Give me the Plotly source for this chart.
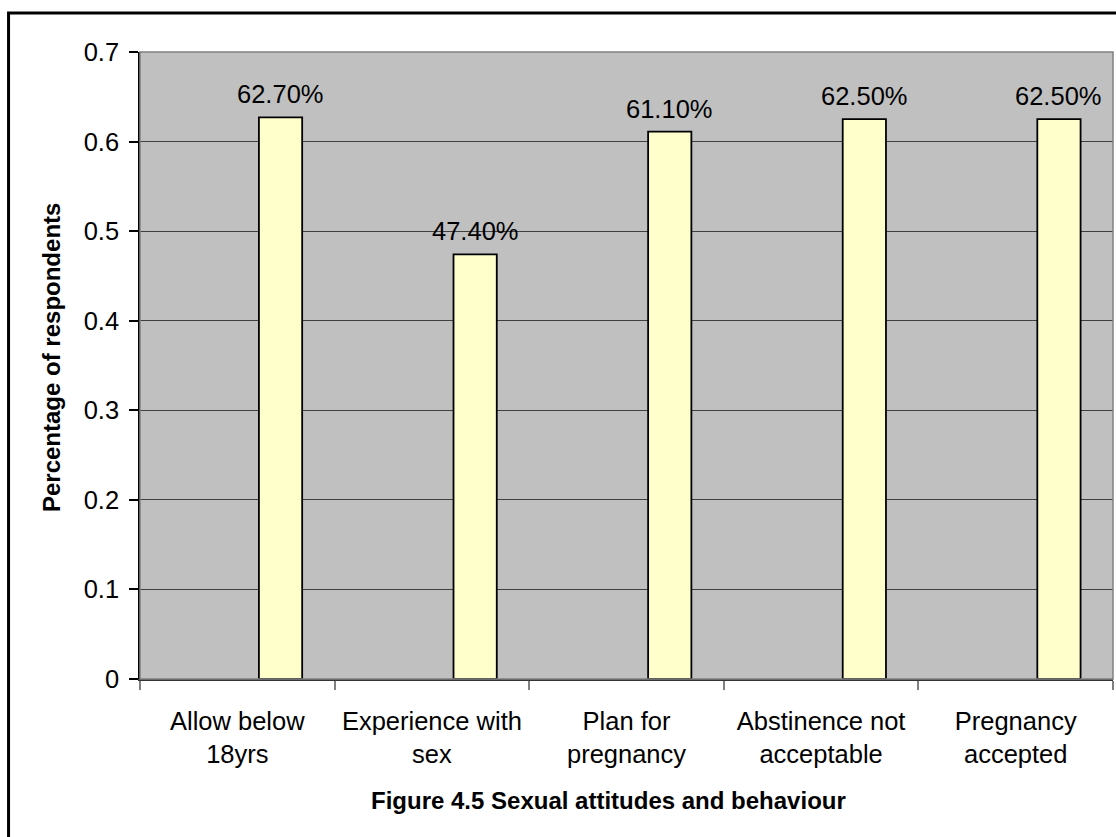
import plotly.graph_objects as go

# Survey results: share of respondents per attitude/behaviour item
categories = [
    "Allow below 18yrs",
    "Experience with sex",
    "Plan for pregnancy",
    "Abstinence not acceptable",
    "Pregnancy accepted",
]
tick_labels = [
    "Allow below<br>18yrs",
    "Experience with<br>sex",
    "Plan for<br>pregnancy",
    "Abstinence not<br>acceptable",
    "Pregnancy<br>accepted",
]
shares = [0.627, 0.474, 0.611, 0.625, 0.625]

y_title = "Percentage of respondents"
x_title = "Figure 4.5 Sexual attitudes and behaviour"

FONT = "Liberation Sans, Arial, sans-serif"
TEXT_SIZE = 25.5
positions = list(range(len(categories)))
boundaries = [p - 0.5 for p in positions] + [len(categories) - 0.5]

# Bars sit in the right-hand slot of a three-slot cluster (gap width 150%)
BAR_W = 1 / 4.5
fig = go.Figure(
    go.Bar(
        x=positions,
        y=shares,
        width=BAR_W,
        offset=BAR_W / 2,
        marker=dict(color="#FFFFCC", line=dict(color="#000000", width=1.8)),
        hoverinfo="skip",
    )
)

annotations = []
for i, v in enumerate(shares):
    annotations.append(
        dict(
            x=i + BAR_W,
            y=v,
            xref="x",
            yref="y",
            text=f"{v * 100:.2f}%",
            showarrow=False,
            yanchor="bottom",
            yshift=7,
            font=dict(family=FONT, size=TEXT_SIZE, color="#000000"),
        )
    )

annotations.append(
    dict(
        x=-0.0909, y=0.5128, xref="paper", yref="paper",
        text=f"<b>{y_title}</b>", textangle=-90, showarrow=False,
        xanchor="center", yanchor="middle",
        font=dict(family=FONT, size=24, color="#000000"),
    )
)
annotations.append(
    dict(
        x=0.481, y=-0.194, xref="paper", yref="paper",
        text=f"<b>{x_title}</b>", showarrow=False,
        xanchor="center", yanchor="middle",
        font=dict(family=FONT, size=24, color="#000000"),
    )
)

shapes = [
    # plot-area frame
    dict(type="rect", xref="paper", yref="paper", x0=0, y0=0, x1=1, y1=1,
         line=dict(color="#808080", width=1.5), layer="above"),
    # chart-area border
    dict(type="rect", xref="paper", yref="paper", x0=-0.1351, y0=-0.27,
         x1=1.01, y1=1.0622, line=dict(color="#000000", width=3), layer="below"),
]

fig.update_layout(
    width=1116,
    height=837,
    margin=dict(l=139.5, r=3, t=52, b=158),
    paper_bgcolor="#FFFFFF",
    plot_bgcolor="#C0C0C0",
    showlegend=False,
    barmode="overlay",
    annotations=annotations,
    shapes=shapes,
    font=dict(family=FONT, size=TEXT_SIZE, color="#000000"),
)

fig.update_xaxes(
    type="linear",
    range=[-0.5, len(categories) - 0.5],
    tickmode="array",
    tickvals=positions,
    ticktext=tick_labels,
    ticks="",
    showgrid=False,
    zeroline=False,
    showline=True,
    linecolor="#333333",
    linewidth=2,
    ticklabelstandoff=18,
    tickfont=dict(family=FONT, size=TEXT_SIZE, color="#000000"),
    # category boundary marks below the axis
    minor=dict(
        tickmode="array",
        tickvals=boundaries,
        ticks="outside",
        ticklen=9,
        tickwidth=1.5,
        tickcolor="#808080",
        showgrid=False,
    ),
)

fig.update_yaxes(
    range=[0, 0.7],
    dtick=0.1,
    tick0=0,
    showgrid=True,
    gridcolor="#404040",
    gridwidth=1,
    zeroline=False,
    showline=True,
    linecolor="#000000",
    linewidth=1.5,
    ticks="outside",
    ticklen=9,
    tickcolor="#000000",
    tickwidth=1.5,
    ticklabelstandoff=5,
    tickfont=dict(family=FONT, size=TEXT_SIZE, color="#000000"),
)

fig.write_html("out.html")
